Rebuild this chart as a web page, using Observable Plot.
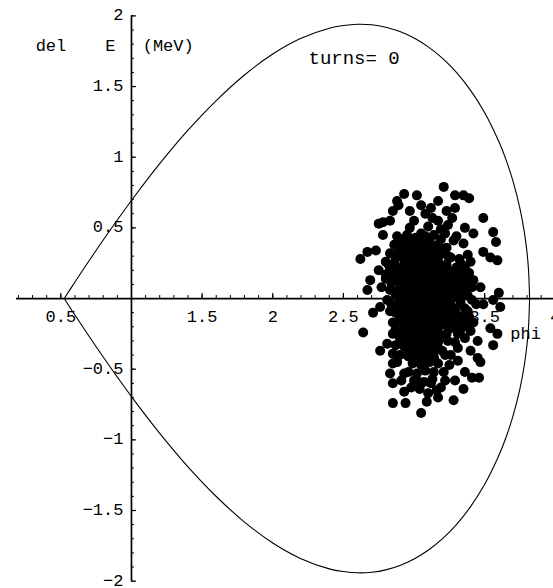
<!DOCTYPE html>
<html>
<head>
<meta charset="utf-8">
<script src="https://cdn.jsdelivr.net/npm/d3@7"></script>
<script src="https://cdn.jsdelivr.net/npm/@observablehq/plot@0.6"></script>
<style>
  html, body { margin: 0; padding: 0; background: #fff; }
  #chart svg { display: block; }
</style>
</head>
<body>
<div id="chart"></div>
<script>
// Separatrix of the RF bucket: phase (rad) and upper / lower energy offset (MeV)
const sepPhi   = [0.524, 0.6, 0.7, 0.8, 0.9, 1.0, 1.2, 1.4, 1.6, 1.8, 2.0, 2.2, 2.4, 2.5, 2.6, 2.7, 2.8, 2.9, 3.0, 3.1, 3.2, 3.3, 3.4, 3.5, 3.6, 3.65, 3.7, 3.75, 3.78, 3.8, 3.81, 3.818];
const sepUpper = [0, 0.117, 0.267, 0.414, 0.556, 0.694, 0.954, 1.191, 1.401, 1.582, 1.730, 1.841, 1.913, 1.932, 1.941, 1.937, 1.920, 1.889, 1.843, 1.781, 1.701, 1.600, 1.473, 1.315, 1.111, 0.985, 0.832, 0.635, 0.474, 0.322, 0.206, 0];
const sepLower = [0, -0.117, -0.267, -0.414, -0.556, -0.694, -0.954, -1.191, -1.401, -1.582, -1.730, -1.841, -1.913, -1.932, -1.941, -1.937, -1.920, -1.889, -1.843, -1.781, -1.701, -1.600, -1.473, -1.315, -1.111, -0.985, -0.832, -0.635, -0.474, -0.322, -0.206, 0];

// Particle positions [phi, del E] at turn 0: outer particles
const beamHalo = [
  [2.93,0.74],[3.02,0.73],[2.88,0.69],[2.85,0.62],[2.78,0.54],[2.83,0.55],[3.00,0.55],[3.08,0.60],[3.12,0.64],
  [2.78,0.45],[2.93,0.42],[3.05,0.46],[2.62,0.28],[2.67,0.33],[2.73,0.34],[2.75,0.20],[2.69,0.13],[2.67,0.06],
  [2.83,0.06],[2.90,0.11],[2.76,-0.06],[2.71,-0.10],[2.85,-0.17],[2.64,-0.24],[2.81,-0.32],[2.76,-0.37],[2.85,-0.39],
  [2.85,-0.46],[2.83,-0.53],[2.85,-0.60],[2.93,-0.53],[2.98,-0.63],[2.85,-0.74],[2.94,-0.74],[3.05,-0.81],[3.10,-0.67],
  [3.02,-0.58],[2.75,0.53],[2.89,0.66],
  [3.21,0.79],[3.29,0.73],[3.35,0.73],[3.17,0.69],[3.29,0.64],[3.17,0.55],[3.27,0.57],[3.49,0.57],[3.42,0.46],
  [3.56,0.47],[3.58,0.40],[3.22,0.46],[3.28,0.41],[3.35,0.39],[3.49,0.33],[3.54,0.29],[3.59,0.27],[3.33,0.25],
  [3.26,0.29],[3.42,0.13],[3.47,0.08],[3.60,0.04],[3.49,-0.04],[3.61,-0.06],[3.56,-0.01],[3.35,0.06],[3.54,-0.21],
  [3.59,-0.25],[3.56,-0.33],[3.45,-0.30],[3.40,-0.37],[3.45,-0.42],[3.47,-0.45],[3.26,-0.21],[3.35,-0.16],[3.24,-0.30],
  [3.31,-0.35],[3.21,-0.52],[3.36,-0.52],[3.46,-0.56],[3.29,-0.58],[3.35,-0.64],[3.19,-0.63],[3.17,-0.70],[3.28,-0.72],
  [3.39,0.71],[3.41,-0.56],[3.16,-0.65],[3.12,-0.60],
  [3.24,0.52],[3.13,0.57],[3.05,0.66],[2.97,0.62],[3.23,0.62],[3.36,0.50],[2.93,-0.66],[3.22,-0.58],[3.09,-0.73]
];

// Particle positions [phi, del E] at turn 0: dense core
const beamCore = [
  [2.97,0.50],[3.10,0.51],[3.19,0.49],
  [2.88,0.44],[2.95,0.45],[3.01,0.43],[3.08,0.44],[3.14,0.45],[3.30,0.44],
  [2.91,0.41],[2.98,0.41],[3.04,0.41],[3.11,0.41],[3.19,0.42],
  [2.86,0.38],[2.93,0.37],[2.99,0.39],[3.05,0.38],[3.11,0.37],[3.17,0.38],[3.23,0.36],
  [2.89,0.35],[2.96,0.35],[3.02,0.35],[3.08,0.35],[3.14,0.35],[3.21,0.34],
  [2.83,0.32],[2.90,0.31],[2.96,0.33],[3.02,0.32],[3.08,0.31],[3.14,0.33],[3.20,0.32],[3.38,0.31],
  [2.87,0.29],[2.93,0.29],[2.99,0.29],[3.05,0.28],[3.11,0.29],[3.17,0.29],[3.24,0.30],[3.32,0.28],
  [2.80,0.26],[2.86,0.25],[2.93,0.27],[2.99,0.26],[3.05,0.25],[3.11,0.27],[3.17,0.26],[3.23,0.24],[3.40,0.26],
  [2.82,0.24],[2.87,0.23],[2.93,0.23],[2.99,0.23],[3.05,0.23],[3.11,0.23],[3.17,0.23],[3.23,0.22],[3.30,0.22],[3.36,0.22],
  [2.83,0.20],[2.90,0.19],[2.96,0.21],[3.02,0.20],[3.08,0.19],[3.14,0.21],[3.20,0.20],[3.26,0.19],[3.33,0.18],[3.39,0.18],
  [2.80,0.17],[2.84,0.17],[2.90,0.17],[2.96,0.17],[3.02,0.17],[3.08,0.17],[3.14,0.17],[3.20,0.17],[3.26,0.16],[3.32,0.16],
  [2.80,0.14],[2.87,0.13],[2.93,0.15],[2.99,0.14],[3.05,0.13],[3.11,0.15],[3.17,0.14],[3.23,0.13],[3.29,0.15],[3.36,0.14],
  [2.84,0.11],[2.93,0.11],[2.99,0.11],[3.05,0.11],[3.11,0.11],[3.17,0.11],[3.23,0.10],[3.29,0.11],[3.36,0.10],
  [2.77,0.08],[2.90,0.07],[2.96,0.09],[3.02,0.08],[3.08,0.07],[3.14,0.09],[3.20,0.08],[3.26,0.07],[3.32,0.09],[3.41,0.08],
  [2.86,0.05],[2.93,0.05],[2.99,0.05],[3.05,0.05],[3.11,0.05],[3.17,0.05],[3.23,0.05],[3.29,0.04],[3.35,0.05],
  [2.87,0.02],[2.93,0.01],[2.99,0.03],[3.05,0.02],[3.11,0.01],[3.17,0.03],[3.23,0.02],[3.29,0.01],[3.38,0.02],[3.37,0.03],
  [2.81,-0.01],[2.90,-0.01],[2.96,-0.01],[3.02,-0.01],[3.08,-0.01],[3.14,-0.01],[3.20,-0.01],[3.26,-0.01],[3.33,0.00],[3.41,-0.01],
  [2.84,-0.04],[2.90,-0.05],[2.96,-0.03],[3.02,-0.04],[3.08,-0.05],[3.14,-0.03],[3.20,-0.04],[3.26,-0.05],[3.33,-0.03],[3.44,-0.04],
  [2.87,-0.07],[2.93,-0.07],[2.99,-0.07],[3.05,-0.07],[3.11,-0.07],[3.17,-0.07],[3.23,-0.07],[3.29,-0.07],[3.36,-0.07],
  [2.83,-0.09],[2.87,-0.10],[2.93,-0.11],[2.99,-0.09],[3.05,-0.10],[3.11,-0.11],[3.17,-0.09],[3.23,-0.10],[3.30,-0.11],[3.38,-0.09],
  [2.90,-0.13],[2.96,-0.13],[3.02,-0.13],[3.08,-0.13],[3.14,-0.13],[3.20,-0.13],[3.26,-0.13],[3.33,-0.13],[3.39,-0.13],
  [2.90,-0.16],[2.96,-0.17],[3.02,-0.15],[3.08,-0.16],[3.14,-0.17],[3.20,-0.15],[3.27,-0.16],[3.42,-0.17],
  [2.93,-0.19],[2.99,-0.19],[3.05,-0.19],[3.11,-0.19],[3.17,-0.19],[3.23,-0.19],[3.30,-0.19],[3.36,-0.19],
  [2.87,-0.22],[2.93,-0.23],[2.99,-0.21],[3.05,-0.22],[3.11,-0.23],[3.17,-0.21],[3.33,-0.22],[3.40,-0.23],
  [2.85,-0.25],[2.93,-0.25],[2.99,-0.25],[3.05,-0.25],[3.11,-0.25],[3.17,-0.25],[3.23,-0.25],[3.31,-0.25],
  [2.90,-0.28],[2.96,-0.29],[3.02,-0.27],[3.08,-0.28],[3.14,-0.29],[3.20,-0.27],[3.36,-0.28],
  [2.93,-0.31],[2.99,-0.31],[3.05,-0.31],[3.11,-0.31],[3.17,-0.31],[3.29,-0.31],
  [2.87,-0.33],[2.93,-0.34],[2.99,-0.35],[3.05,-0.33],[3.11,-0.34],[3.17,-0.35],
  [2.96,-0.37],[3.02,-0.37],[3.08,-0.37],[3.14,-0.37],[3.20,-0.37],
  [2.90,-0.40],[2.96,-0.41],[3.02,-0.39],[3.08,-0.40],[3.14,-0.41],[3.22,-0.40],[3.26,-0.40],
  [3.02,-0.43],[3.08,-0.43],[3.14,-0.43],[3.31,-0.44],
  [2.88,-0.45],[2.99,-0.46],[3.05,-0.47],[3.11,-0.45],[3.17,-0.46],[3.25,-0.47],
  [2.96,-0.52],[3.02,-0.53],[3.08,-0.51],[3.14,-0.52],
  [2.91,-0.58],[3.00,-0.58],[3.07,-0.59],[3.13,-0.57],
  [3.04,-0.64]
];

// Axis ticks and their labels
const xTickValues = [0.5, 1.5, 2, 2.5, 3, 3.5, 4];
const xTickText   = ["0.5", "1.5", "2", "2.5", "3", "3.5", "4"];
const yTickValues = [-2, -1.5, -1, -0.5, 0.5, 1, 1.5, 2];
const yTickText   = ["\u22122", "\u22121.5", "\u22121", "\u22120.5", "0.5", "1", "1.5", "2"];
const xMinor = d3.range(2, 40).map(i => i / 10).filter(v => v !== 1);
const yMinor = d3.range(-20, 21).map(i => i / 10).filter(v => v !== 0);

// Axis labels (the y label sits astride the vertical axis)
const xLabel = "phi";
const yLabelParts = ["del", "E", "(MeV)"];
const yLabelPhi = [0.43, 0.85, 1.26];
const turnsLabel = "turns= 0";

const sepData = [
  ...sepPhi.map((p, i) => ({phi: p, dE: sepUpper[i], branch: "upper"})),
  ...sepPhi.map((p, i) => ({phi: p, dE: sepLower[i], branch: "lower"}))
];
const beam = [...beamHalo, ...beamCore];

const font = "'Liberation Mono', 'Courier New', monospace";

const chart = Plot.plot({
  width: 553,
  height: 588,
  margin: 0,
  style: {fontFamily: font, fontSize: "17px", background: "#fff", color: "#000", overflow: "hidden"},
  x: {domain: [0.073, 3.987], axis: null},
  y: {domain: [-2.052, 2.109], axis: null},
  marks: [
    // axes through the point (1, 0)
    Plot.ruleY([0], {x1: 0.186, x2: 3.99, stroke: "#000", strokeWidth: 1.7}),
    Plot.ruleX([1], {y1: -2, y2: 2, stroke: "#000", strokeWidth: 1.7}),
    Plot.ruleX(xMinor, {x: d => d, y1: 0, y2: 0, insetTop: -3, stroke: "#000", strokeWidth: 1}),
    Plot.ruleX(xTickValues, {x: d => d, y1: 0, y2: 0, insetTop: -5, stroke: "#000", strokeWidth: 1.2}),
    Plot.ruleY(yMinor, {y: d => d, x1: 1, x2: 1, insetRight: -3, stroke: "#000", strokeWidth: 1}),
    Plot.ruleY(yTickValues, {y: d => d, x1: 1, x2: 1, insetRight: -5, stroke: "#000", strokeWidth: 1.2}),
    Plot.text(xTickValues, {x: d => d, y: 0, dy: 18, text: (d, i) => xTickText[i], fill: "#000"}),
    Plot.text(yTickValues, {x: 1, y: d => d, dx: -8, dy: -1, textAnchor: "end", text: (d, i) => yTickText[i], fill: "#000"}),
    // separatrix
    Plot.line(sepData, {x: "phi", y: "dE", z: "branch", curve: "catmull-rom", stroke: "#000", strokeWidth: 1.1}),
    // particles
    Plot.dot(beam, {x: d => d[0], y: d => d[1], r: 5, fill: "#000", stroke: "none"}),
    // labels
    Plot.text(yLabelParts, {x: (d, i) => yLabelPhi[i], y: 1.79, text: d => d, fill: "#000"}),
    Plot.text([xLabel], {x: 3.79, y: -0.25, text: d => d, fill: "#000"}),
    Plot.text([turnsLabel], {x: 2.253, y: 1.70, textAnchor: "start", text: d => d, fill: "#000", fontSize: 19})
  ]
});

document.getElementById("chart").appendChild(chart);
</script>
</body>
</html>
